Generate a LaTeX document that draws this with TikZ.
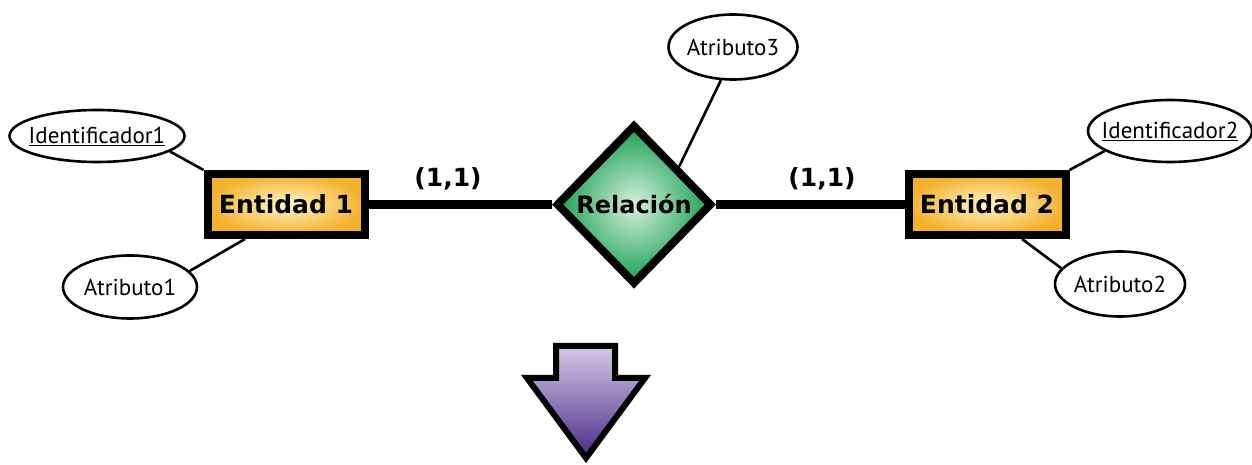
\documentclass[tikz,border=0pt]{standalone}
\usepackage{fontspec}
\usepackage{tikz}
\usetikzlibrary{shapes.geometric}
\usetikzlibrary{positioning}
\usetikzlibrary{calc}

\newfontfamily\boldlabel{DejaVu Sans}
\newfontfamily\attrlabel{PT Sans}

\definecolor{entityedge}{HTML}{F4B12C}
\definecolor{entitycenter}{HTML}{FFF6C8}
\definecolor{relationedge}{HTML}{17A052}
\definecolor{relationcenter}{HTML}{D6F0DC}
\definecolor{arrowtop}{HTML}{D6CAE6}
\definecolor{arrowbottom}{HTML}{4A2A88}

\begin{document}
\begin{tikzpicture}[x=1pt, y=1pt,
  entity/.style={rectangle, draw=black, line width=8pt, inner color=entitycenter, outer color=entityedge,
    minimum width=157pt, minimum height=61pt, inner sep=0pt, font=\boldlabel\bfseries\fontsize{25}{30}\selectfont},
  relation/.style={diamond, aspect=1, draw=black, line width=8pt, inner color=relationcenter, outer color=relationedge,
    minimum width=156pt, minimum height=160pt, inner sep=0pt, font=\boldlabel\bfseries\fontsize{24}{28}\selectfont},
  attribute/.style={ellipse, draw=black, line width=2.6pt, fill=white, inner xsep=-14pt, inner ysep=0pt,
    font=\attrlabel\fontsize{23}{27}\selectfont},
  card/.style={font=\boldlabel\bfseries\fontsize{25}{29}\selectfont},
  thinlink/.style={line width=2.6pt},
  thicklink/.style={line width=9pt}]

  \useasboundingbox (0,0) rectangle (1252,465);

  % entities and relation
  \node[entity] (ent1) at (286, 260.5) {Entidad 1};
  \node[relation] (rel) at (634, 260.5) {Relación};
  \node[entity] (ent2) at (987, 260.5) {Entidad 2};

  % attributes
  \node[attribute, minimum width=175pt, minimum height=52pt] (id1) at (97, 329) {\underline{Identificador1}};
  \node[attribute, minimum width=134pt, minimum height=63pt] (at1) at (130, 178) {Atributo1};
  \node[attribute, minimum width=129pt, minimum height=65pt] (at3) at (733, 418) {Atributo3};
  \node[attribute, minimum width=164pt, minimum height=62pt] (id2) at (1170, 334) {\underline{Identificador2}};
  \node[attribute, minimum width=130pt, minimum height=65pt] (at2) at (1120, 181) {Atributo2};

  \draw[thicklink] (ent1) -- (rel);
  \draw[thicklink] (rel) -- (ent2);

  \draw[thinlink] (id1.-12) -- (ent1.north west);
  \draw[thinlink] (at1.15) -- ([xshift=-41pt]ent1.south);
  \draw[thinlink] (at3.250) -- (rel.40);
  \draw[thinlink] (id2.197) -- (ent2.north east);
  \draw[thinlink] (at2.165) -- ([xshift=35pt]ent2.south);

  % cardinalities
  \node[card] (card1) at (448, 286) {(1,1)};
  \node[card] (card2) at (822, 286) {(1,1)};

  % down arrow
  \shadedraw[top color=arrowtop, bottom color=arrowbottom, draw=black, line width=6pt, line join=miter]
    (556,119) -- (615,119) -- (615,87) -- (645,87) -- (586,7) -- (527,87) -- (556,87) -- cycle;

\end{tikzpicture}
\end{document}
